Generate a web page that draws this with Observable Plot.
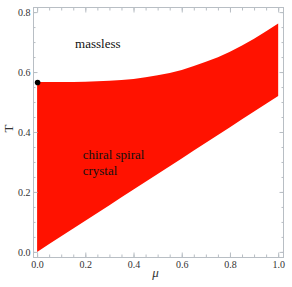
<!DOCTYPE html>
<html><head><meta charset="utf-8">
<script src="https://cdn.jsdelivr.net/npm/d3@7"></script>
<script src="https://cdn.jsdelivr.net/npm/@observablehq/plot@0.6"></script>
<style>body{margin:0;background:#fff}</style>
</head><body><div id="chart"></div>
<script>
const muVals = [0, 0.1, 0.2, 0.3, 0.4, 0.5, 0.6, 0.7, 0.8, 0.9, 1.0];
const upperT = [0.567, 0.567, 0.568, 0.571, 0.577, 0.589, 0.607, 0.634, 0.668, 0.711, 0.762];
const lowerT = [0.0, 0.052, 0.104, 0.156, 0.208, 0.26, 0.312, 0.364, 0.416, 0.468, 0.52];
const majorTicks = [0, 0.2, 0.4, 0.6, 0.8, 1.0];
const yMajor = [0, 0.2, 0.4, 0.6, 0.8];
const minorTicks = d3.range(0, 1.0001, 0.05).map(v => +v.toFixed(2));
const yMinor = d3.range(0, 0.8001, 0.05).map(v => +v.toFixed(2));
const centerLabels = [{mu: 0.25, T: 0.697, text: "massless"}];
const startLabels = [
  {mu: 0.187, T: 0.327, text: "chiral spiral"},
  {mu: 0.187, T: 0.273, text: "crystal"}
];
const critical = [{mu: 0, T: 0.567}];

const data = muVals.map((m, i) => ({mu: m, lo: lowerT[i], hi: upperT[i]}));
const fmt = d => d.toFixed(1);
const grey = "#b8bec4";
const font = "Liberation Serif, Times New Roman, serif";

const plot = Plot.plot({
  width: 292, height: 287,
  marginLeft: 33, marginRight: 9, marginTop: 7, marginBottom: 30,
  style: {fontFamily: font, background: "#fff"},
  x: {domain: [-0.017, 1.02]},
  y: {domain: [-0.017, 0.817]},
  marks: [
    Plot.areaY(data, {x: "mu", y1: "lo", y2: "hi", fill: "#ff1200", curve: "monotone-x"}),
    Plot.frame({stroke: grey}),
    Plot.axisX({anchor: "bottom", ticks: minorTicks, tickSize: -2.5, text: null, stroke: grey, label: null}),
    Plot.axisX({anchor: "top", ticks: minorTicks, tickSize: -2.5, text: null, stroke: grey, label: null}),
    Plot.axisY({anchor: "left", ticks: yMinor, tickSize: -2.5, text: null, stroke: grey, label: null}),
    Plot.axisY({anchor: "right", ticks: yMinor, tickSize: -2.5, text: null, stroke: grey, label: null}),
    Plot.axisX({anchor: "bottom", ticks: majorTicks, tickSize: -4.5, text: null, stroke: grey, label: null}),
    Plot.axisX({anchor: "top", ticks: majorTicks, tickSize: -4.5, text: null, stroke: grey, label: null}),
    Plot.axisY({anchor: "left", ticks: yMajor, tickSize: -4.5, text: null, stroke: grey, label: null}),
    Plot.axisY({anchor: "right", ticks: yMajor, tickSize: -4.5, text: null, stroke: grey, label: null}),
    Plot.axisX({anchor: "bottom", ticks: majorTicks, tickSize: 0, tickPadding: 3, tickFormat: fmt, fontSize: 10, fill: "#333", label: null}),
    Plot.axisY({anchor: "left", ticks: yMajor, tickSize: 0, tickPadding: 3, tickFormat: fmt, fontSize: 10, fill: "#333", label: null}),
    Plot.text(["μ"], {frameAnchor: "bottom", dy: 19, dx: -3, text: d => d, fontStyle: "italic", fontSize: 13, fill: "#333"}),
    Plot.text(["T"], {frameAnchor: "left", dx: -25, rotate: -90, text: d => d, fontSize: 13, fill: "#333"}),
    Plot.text(centerLabels, {x: "mu", y: "T", text: "text", textAnchor: "middle", fontSize: 13, fill: "#111"}),
    Plot.text(startLabels, {x: "mu", y: "T", text: "text", textAnchor: "start", fontSize: 13, fill: "#111"}),
    Plot.dot(critical, {x: "mu", y: "T", r: 2.8, fill: "#000"})
  ]
});
document.getElementById("chart").appendChild(plot);
</script>
</body></html>
